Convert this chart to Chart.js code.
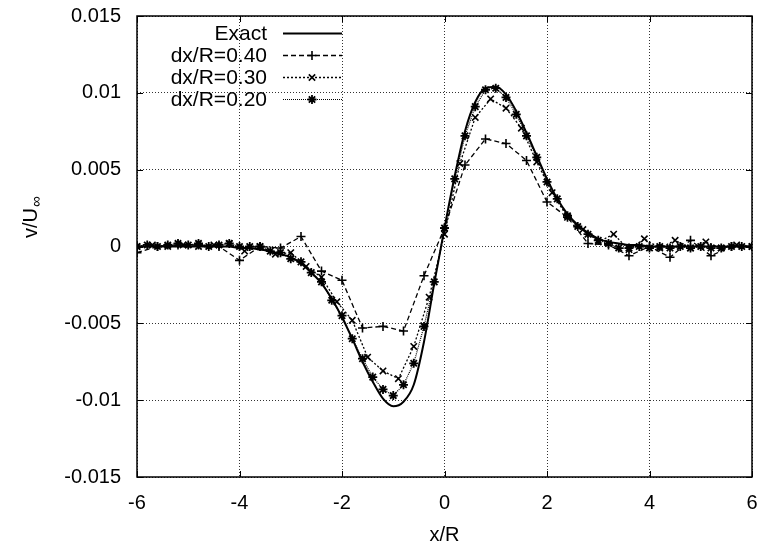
<!DOCTYPE html>
<html>
<head>
<meta charset="utf-8">
<script src="https://cdn.jsdelivr.net/npm/chart.js@4.4.1/dist/chart.umd.min.js"></script>
<style>
  body { margin: 0; background: #fff; }
  #wrap { width: 762px; height: 548px; position: relative; }
</style>
</head>
<body>
<div id="wrap"><canvas id="graphicVelocity"></canvas></div>
<script>
// posiciones x/R de cada serie
const xs02 = [-6.0, -5.8, -5.6, -5.4, -5.2, -5.0, -4.8, -4.6, -4.4, -4.2,
  -4.0, -3.8, -3.6, -3.4, -3.2, -3.0, -2.8, -2.6, -2.4, -2.2,
  -2.0, -1.8, -1.6, -1.4, -1.2, -1.0, -0.8, -0.6, -0.4, -0.2,
  0.0, 0.2, 0.4, 0.6, 0.8, 1.0, 1.2, 1.4, 1.6, 1.8,
  2.0, 2.2, 2.4, 2.6, 2.8, 3.0, 3.2, 3.4, 3.6, 3.8,
  4.0, 4.2, 4.4, 4.6, 4.8, 5.0, 5.2, 5.4, 5.6, 5.8, 6.0];
const xs03 = [-6.0, -5.7, -5.4, -5.1, -4.8, -4.5, -4.2, -3.9, -3.6, -3.3,
  -3.0, -2.7, -2.4, -2.1, -1.8, -1.5, -1.2, -0.9, -0.6, -0.3,
  0.0, 0.3, 0.6, 0.9, 1.2, 1.5, 1.8, 2.1, 2.4, 2.7,
  3.0, 3.3, 3.6, 3.9, 4.2, 4.5, 4.8, 5.1, 5.4, 5.7, 6.0];
const xs04 = [-6.0, -5.6, -5.2, -4.8, -4.4, -4.0, -3.6, -3.2, -2.8, -2.4,
  -2.0, -1.6, -1.2, -0.8, -0.4, 0.0, 0.4, 0.8, 1.2, 1.6,
  2.0, 2.4, 2.8, 3.2, 3.6, 4.0, 4.4, 4.8, 5.2, 5.6, 6.0];

// valores v/U
const vExact = [0, 0, 0, 0, 0, 0, 0, 0, 0, 0,
  -0.0001, -0.0001, -0.0002, -0.0003, -0.0005, -0.0007, -0.0011, -0.0017, -0.0024, -0.0034,
  -0.0046, -0.0060, -0.0075, -0.0088, -0.0099, -0.0104, -0.0101, -0.0090, -0.0062, -0.0024,
  0.0012, 0.0046, 0.0075, 0.0094, 0.0103, 0.0104, 0.0099, 0.0088, 0.0074, 0.0059,
  0.0044, 0.0031, 0.0021, 0.0014, 0.0009, 0.0005, 0.0003, 0.0002, 0.0001, 0.0001,
  0, 0, 0, 0, 0, 0, 0, 0, 0, 0, 0];
const v02 = [0, 0.0001, 0, 0.0001, 0.0002, 0.0001, 0.0002, 0, 0.0001, 0.0002,
  0, 0, 0, -0.0003, -0.0004, -0.0008, -0.0010, -0.0017, -0.0023, -0.0035,
  -0.0045, -0.0060, -0.0073, -0.0085, -0.0093, -0.0097, -0.0090, -0.0076, -0.0052, -0.0023,
  0.0012, 0.0044, 0.0072, 0.0091, 0.0102, 0.0103, 0.0097, 0.0086, 0.0072, 0.0058,
  0.0042, 0.0031, 0.0020, 0.0013, 0.0008, 0.0004, 0.0002, -0.0001, -0.0001, 0,
  -0.0001, 0, -0.0001, 0, -0.0001, 0, -0.0001, -0.0001, 0, 0, 0];
const v03 = [0, 0.0001, 0, 0.0001, 0, 0.0001, 0.0002, -0.0003, 0, -0.0005,
  -0.0004, -0.0013, -0.0020, -0.0036, -0.0048, -0.0072, -0.0081, -0.0086, -0.0065, -0.0033,
  0.0008, 0.0054, 0.0084, 0.0096, 0.0090, 0.0077, 0.0055, 0.0035, 0.0019, 0.0011,
  0.0003, 0.0008, -0.0002, 0.0005, -0.0001, 0.0004, -0.0001, 0.0003, -0.0001, 0.0001, 0];
const v04 = [-0.0004, 0, 0.0001, 0.0001, 0, -0.0009, 0, -0.0001, 0.00065, -0.0016,
  -0.0022, -0.0053, -0.0052, -0.0055, -0.0019, 0.0012, 0.0053, 0.0070, 0.0067, 0.0056,
  0.0029, 0.0019, 0.0002, 0.0001, -0.0006, 0, -0.0007, 0.0004, -0.0006, 0, 0];

const xTicks = [-6, -4, -2, 0, 2, 4, 6];
const yTicks = [-0.015, -0.01, -0.005, 0, 0.005, 0.01, 0.015];
const labels = ["Exact", "dx/R=0.40", "dx/R=0.30", "dx/R=0.20"];

const FONT = "'Liberation Sans', Arial, sans-serif";

function pts(xs, ys) {
  return xs.map((x, i) => ({ x: x, y: ys[i] }));
}

function noPadding(s) {
  s.paddingTop = 0;
  s.paddingBottom = 0;
  s.paddingLeft = 0;
  s.paddingRight = 0;
}

// marco, ticks hacia dentro, leyenda y titulos
const gnuplotFrame = {
  id: "gnuplotFrame",
  afterDatasetsDraw(chart) {
    const ctx = chart.ctx;
    const a = chart.chartArea;
    const sx = chart.scales.x;
    const sy = chart.scales.y;
    ctx.save();
    ctx.strokeStyle = "#000";
    ctx.lineWidth = 1;
    ctx.setLineDash([]);
    ctx.beginPath();
    xTicks.forEach((t) => {
      const px = Math.round(sx.getPixelForValue(t)) + 0.5;
      ctx.moveTo(px, a.bottom); ctx.lineTo(px, a.bottom - 6);
      ctx.moveTo(px, a.top); ctx.lineTo(px, a.top + 6);
    });
    yTicks.forEach((t) => {
      const py = Math.round(sy.getPixelForValue(t)) + 0.5;
      ctx.moveTo(a.left, py); ctx.lineTo(a.left + 6, py);
      ctx.moveTo(a.right, py); ctx.lineTo(a.right - 6, py);
    });
    ctx.stroke();
    ctx.lineWidth = 1.5;
    ctx.strokeRect(a.left, a.top, a.right - a.left, a.bottom - a.top);

    // leyenda
    ctx.font = "21px " + FONT;
    ctx.fillStyle = "#000";
    ctx.textAlign = "right";
    ctx.textBaseline = "middle";
    chart.data.datasets.forEach((ds, i) => {
      const y = 33 + i * 22;
      ctx.fillText(labels[i], 267, y + 1);
      ctx.save();
      ctx.strokeStyle = "#000";
      ctx.lineWidth = ds.borderWidth;
      ctx.setLineDash(ds.borderDash || []);
      ctx.beginPath();
      ctx.moveTo(283, y + 0.5);
      ctx.lineTo(342, y + 0.5);
      ctx.stroke();
      ctx.setLineDash([]);
      if (ds.pointStyle && ds.pointRadius > 0) {
        ctx.lineWidth = ds.pointBorderWidth;
        Chart.helpers.drawPoint(ctx, {
          pointStyle: ds.pointStyle,
          radius: ds.pointRadius,
          borderWidth: ds.pointBorderWidth,
          rotation: 0,
        }, 312, y + 0.5);
      }
      ctx.restore();
    });

    // titulo eje x
    ctx.textAlign = "center";
    ctx.textBaseline = "middle";
    ctx.font = "20px " + FONT;
    ctx.fillText("x/R", (a.left + a.right) / 2, 535);

    // titulo eje y con subindice
    ctx.save();
    ctx.translate(37, 238);
    ctx.rotate(-Math.PI / 2);
    ctx.textAlign = "left";
    ctx.textBaseline = "alphabetic";
    ctx.font = "20px " + FONT;
    ctx.fillText("v/U", 0, 0);
    const w = ctx.measureText("v/U").width;
    ctx.font = "15px " + FONT;
    ctx.fillText("\u221E", w + 1, 4);
    ctx.restore();
    ctx.restore();
  },
};

function getGraphicVelocity() {
  const chrt = document.getElementById("graphicVelocity").getContext("2d");
  new Chart(chrt, {
    type: "scatter",
    data: {
      datasets: [
        {
          label: labels[0],
          data: pts(xs02, vExact),
          showLine: true,
          borderColor: "#000",
          backgroundColor: "#000",
          borderWidth: 2,
          pointRadius: 0,
          pointStyle: false,
          cubicInterpolationMode: "monotone",
        },
        {
          label: labels[1],
          data: pts(xs04, v04),
          showLine: true,
          borderColor: "#000",
          backgroundColor: "#000",
          borderWidth: 1.3,
          borderDash: [5, 3],
          pointStyle: "cross",
          pointRadius: 4.5,
          pointBorderWidth: 1.6,
          pointBorderColor: "#000",
        },
        {
          label: labels[2],
          data: pts(xs03, v03),
          showLine: true,
          borderColor: "#000",
          backgroundColor: "#000",
          borderWidth: 1.3,
          borderDash: [2, 2],
          pointStyle: "crossRot",
          pointRadius: 4.5,
          pointBorderWidth: 1.6,
          pointBorderColor: "#000",
        },
        {
          label: labels[3],
          data: pts(xs02, v02),
          showLine: true,
          borderColor: "#000",
          backgroundColor: "#000",
          borderWidth: 1.2,
          borderDash: [1, 1],
          pointStyle: "star",
          pointRadius: 4.5,
          pointBorderWidth: 1.8,
          pointBorderColor: "#000",
        },
      ],
    },
    options: {
      responsive: true,
      maintainAspectRatio: false,
      animation: false,
      layout: { padding: { left: 0, right: 10, top: 16, bottom: 0 } },
      plugins: {
        legend: { display: false },
        tooltip: { enabled: false },
      },
      scales: {
        x: {
          type: "linear",
          min: -6,
          max: 6,
          afterBuildTicks: (s) => { s.ticks = xTicks.map((v) => ({ value: v })); },
          afterFit: (s) => { s.height = 71; noPadding(s); },
          ticks: {
            autoSkip: false,
            maxRotation: 0,
            padding: 14,
            color: "#000",
            font: { family: FONT, size: 20 },
            callback: (v) => String(v),
          },
          grid: { color: "#333", lineWidth: 1, drawTicks: false },
          border: { display: false, dash: [1, 2] },
        },
        y: {
          type: "linear",
          min: -0.015,
          max: 0.015,
          afterBuildTicks: (s) => { s.ticks = yTicks.map((v) => ({ value: v })); },
          afterFit: (s) => { s.width = 137; noPadding(s); },
          ticks: {
            autoSkip: false,
            padding: 16,
            color: "#000",
            font: { family: FONT, size: 20 },
            callback: (v) => String(parseFloat(v.toFixed(3))),
          },
          grid: { color: "#333", lineWidth: 1, drawTicks: false },
          border: { display: false, dash: [1, 2] },
        },
      },
    },
    plugins: [gnuplotFrame],
  });
}

getGraphicVelocity();
</script>
</body>
</html>
